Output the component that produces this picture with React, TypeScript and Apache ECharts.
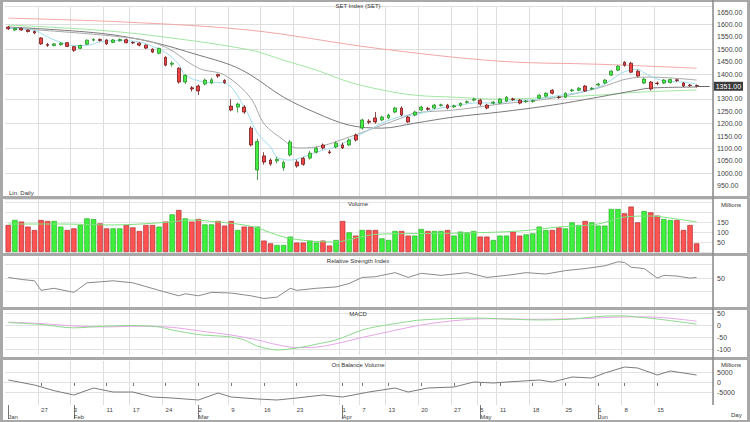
import React, { useEffect, useRef } from "react";
import * as echarts from "echarts";

const dates = [
  "2020-01-20","2020-01-21","2020-01-22","2020-01-23","2020-01-24","2020-01-27","2020-01-28","2020-01-29","2020-01-30","2020-01-31",
  "2020-02-03","2020-02-04","2020-02-05","2020-02-06","2020-02-07","2020-02-11","2020-02-12","2020-02-13","2020-02-14","2020-02-17","2020-02-18","2020-02-19","2020-02-20","2020-02-21","2020-02-24","2020-02-25","2020-02-26","2020-02-27","2020-02-28",
  "2020-03-02","2020-03-03","2020-03-04","2020-03-05","2020-03-06","2020-03-09","2020-03-10","2020-03-11","2020-03-12","2020-03-13","2020-03-16","2020-03-17","2020-03-18","2020-03-19","2020-03-20","2020-03-23","2020-03-24","2020-03-25","2020-03-26","2020-03-27","2020-03-30","2020-03-31",
  "2020-04-01","2020-04-02","2020-04-03","2020-04-07","2020-04-08","2020-04-09","2020-04-10","2020-04-13","2020-04-14","2020-04-15","2020-04-16","2020-04-17","2020-04-20","2020-04-21","2020-04-22","2020-04-23","2020-04-24","2020-04-27","2020-04-28","2020-04-29","2020-04-30",
  "2020-05-05","2020-05-07","2020-05-08","2020-05-11","2020-05-12","2020-05-13","2020-05-14","2020-05-15","2020-05-18","2020-05-19","2020-05-20","2020-05-21","2020-05-22","2020-05-25","2020-05-26","2020-05-27","2020-05-28","2020-05-29",
  "2020-06-01","2020-06-02","2020-06-04","2020-06-05","2020-06-08","2020-06-09","2020-06-10","2020-06-11","2020-06-12","2020-06-15","2020-06-16","2020-06-17","2020-06-18","2020-06-19","2020-06-22","2020-06-23"
];
const futureDates = ["2020-06-24", "2020-06-25"];

// [open, close, low, high]
const candles = [
  [1590,1583,1578,1594],[1578,1584,1574,1588],[1584,1578,1575,1588],[1578,1572,1568,1581],[1572,1566,1561,1576],
  [1546,1522,1518,1549],[1520,1516,1510,1526],[1516,1522,1512,1526],[1519,1525,1515,1529],[1527,1512,1509,1530],
  [1511,1496,1490,1514],[1504,1516,1501,1519],[1521,1537,1518,1540],[1537,1540,1532,1545],[1540,1536,1531,1544],
  [1538,1522,1518,1541],[1528,1538,1525,1542],[1535,1540,1531,1544],[1539,1527,1524,1544],[1528,1526,1521,1532],
  [1525,1517,1512,1529],[1517,1505,1501,1520],[1501,1489,1485,1504],[1484,1504,1480,1507],[1468,1436,1432,1472],
  [1440,1444,1430,1452],[1424,1368,1362,1428],[1368,1395,1360,1400],[1345,1340,1330,1352],[1352,1332,1316,1358],
  [1360,1376,1355,1382],[1364,1377,1360,1385],[1398,1392,1385,1402],[1374,1366,1360,1380],[1271,1255,1250,1299],
  [1267,1279,1245,1285],[1267,1247,1240,1275],[1182,1114,1108,1190],[1013,1128,972,1140],[1070,1045,1035,1085],
  [1053,1037,1030,1060],[1050,1056,1040,1066],[1022,1044,1010,1050],[1074,1126,1068,1134],[1045,1029,1022,1055],
  [1060,1036,1030,1066],[1061,1081,1055,1090],[1085,1101,1080,1108],[1114,1102,1096,1120],[1086,1083,1078,1094],
  [1106,1122,1100,1128],[1114,1102,1098,1124],[1114,1134,1110,1140],[1154,1134,1128,1160],[1182,1215,1176,1220],
  [1210,1206,1198,1218],[1223,1207,1200,1247],[1215,1227,1210,1232],[1223,1235,1218,1240],[1247,1263,1242,1268],
  [1263,1235,1230,1270],[1227,1207,1203,1232],[1235,1247,1230,1252],[1255,1267,1250,1272],[1262,1258,1252,1268],
  [1263,1275,1258,1280],[1274,1276,1269,1281],[1275,1263,1258,1280],[1268,1272,1263,1277],[1274,1282,1268,1286],
  [1286,1289,1281,1294],[1295,1299,1290,1305],[1295,1279,1272,1300],[1275,1263,1258,1280],[1283,1287,1278,1292],
  [1283,1299,1280,1304],[1291,1307,1288,1312],[1300,1297,1292,1305],[1295,1283,1278,1300],[1289,1291,1284,1296],
  [1290,1293,1285,1298],[1303,1315,1300,1320],[1311,1323,1306,1327],[1335,1323,1318,1339],[1307,1306,1300,1312],
  [1307,1323,1303,1327],[1333,1336,1328,1341],[1335,1343,1331,1348],[1352,1332,1328,1356],[1340,1343,1335,1348],
  [1356,1360,1350,1365],[1364,1376,1360,1380],[1396,1412,1392,1416],[1416,1432,1412,1436],[1448,1436,1430,1452],
  [1444,1408,1404,1450],[1412,1392,1388,1418],[1364,1380,1360,1385],[1368,1340,1334,1372],[1364,1362,1355,1370],
  [1364,1376,1360,1380],[1366,1378,1362,1382],[1377,1374,1369,1381],[1364,1352,1348,1368],[1356,1354,1349,1360],
  [1354,1351,1346,1358]
];

const volumes = [
  135,160,152,127,110,160,155,155,127,110,118,135,168,165,143,118,118,118,135,123,
  105,135,135,127,152,188,210,168,152,165,138,138,155,132,155,110,127,127,127,57,
  43,35,35,77,47,47,57,47,57,32,60,155,98,82,110,110,
  110,68,60,105,105,82,82,115,105,105,105,110,82,102,98,105,77,77,60,82,
  82,102,82,88,93,127,110,110,123,118,148,135,155,148,132,132,215,215,193,227,
  148,205,198,182,165,160,160,110,135,43
];

// moving averages read at sample points: [day index, value]
const ma200Pts = [[0,1626],[18,1610],[37,1577],[56,1505],[75,1452],[90,1440],[105,1424]];
const ma100Pts = [[0,1598],[14,1577],[24,1549],[37,1497],[42,1456],[47,1416],[52,1368],[57,1336],[62,1315],[68,1307],[75,1299],[80,1303],[90,1315],[96,1327],[105,1336]];
const ma50Pts = [[0,1590],[14,1565],[22,1529],[29,1477],[34,1436],[37,1396],[42,1307],[47,1243],[52,1194],[57,1182],[62,1202],[68,1227],[75,1247],[83,1275],[90,1307],[96,1336],[98,1344],[105,1348]];
const ma10Pts = [[0,1586],[19,1545],[24,1509],[29,1424],[33,1396],[37,1303],[39,1200],[42,1134],[44,1102],[47,1106],[52,1146],[57,1194],[60,1223],[62,1243],[68,1255],[75,1279],[83,1303],[90,1344],[95,1384],[98,1388],[105,1376]];
const ma5Pts = [[0,1586],[4,1577],[6,1550],[8,1528],[10,1515],[12,1516],[14,1530],[17,1535],[20,1530],[22,1512],[24,1487],[26,1440],[27,1396],[30,1368],[33,1364],[36,1267],[38,1162],[40,1106],[41,1065],[43,1053],[45,1065],[48,1094],[50,1106],[52,1134],[55,1174],[57,1202],[60,1230],[62,1235],[65,1258],[67,1268],[70,1280],[72,1285],[74,1282],[77,1293],[80,1295],[82,1305],[85,1318],[87,1325],[89,1338],[91,1360],[93,1395],[94,1410],[96,1420],[97,1405],[99,1380],[101,1370],[103,1368],[105,1360]];
const volMaPts = [[0,140],[8,140],[16,135],[24,148],[28,160],[32,150],[36,135],[38,120],[42,75],[46,55],[50,50],[53,70],[56,88],[62,92],[70,95],[78,105],[84,125],[90,140],[94,175],[98,180],[102,165],[105,150]];
const rsiPts = [[0,51],[2,48],[4,46],[5,32],[7,35],[10,29],[12,43],[16,46],[19,43],[23,32],[26,24],[27,27],[29,24],[31,29],[34,28],[37,24],[39,20],[41,22],[43,35],[44,32],[47,35],[50,37],[52,42],[54,51],[56,52],[59,58],[61,51],[63,57],[66,54],[70,58],[73,51],[76,54],[79,58],[82,56],[85,61],[88,64],[91,68],[93,74],[94,73],[95,66],[97,64],[99,50],[100,54],[102,53],[104,50],[105,51]];
const macdPts = [[0,10],[5,2],[10,-12],[14,-6],[19,-2],[23,-8],[25,-21],[29,-40],[31,-44],[34,-50],[36,-62],[38,-88],[41,-104],[44,-96],[47,-80],[50,-62],[54,-21],[56,-8],[60,10],[63,21],[71,29],[76,25],[81,21],[86,25],[91,37],[94,38],[96,33],[99,25],[105,4]];
const signalPts = [[0,12],[5,6],[10,-4],[15,-8],[20,-5],[25,-10],[29,-24],[34,-42],[38,-62],[41,-82],[44,-94],[47,-92],[50,-78],[54,-52],[58,-28],[63,0],[68,18],[73,26],[81,24],[88,27],[93,33],[97,34],[101,28],[105,16]];
const obvPts = [[0,1000],[4,-1500],[7,-4350],[10,-6500],[13,-3000],[16,-5000],[19,-5000],[22,-7500],[25,-8000],[29,-9000],[32,-5500],[34,-7500],[38,-8500],[41,-9000],[44,-8000],[48,-6500],[51,-7500],[55,-5000],[59,-3000],[61,-5000],[64,-3000],[68,-2500],[71,0],[74,-500],[76,0],[81,1000],[83,0],[86,2500],[89,2000],[91,4500],[94,7500],[96,7000],[99,3500],[101,5500],[103,4500],[105,3500]];

const priceLabels = [950,1000,1050,1100,1150,1200,1250,1300,1350,1400,1450,1500,1550,1600,1650];
const volumeLabels = [50, 100, 150];
const rsiLabels = [50];
const macdLabels = [50, 0, -50, -100];
const obvLabels = [5000, 0, -5000];
const weekLabelDates = ["2020-01-27","2020-02-03","2020-02-11","2020-02-17","2020-02-24","2020-03-02","2020-03-09","2020-03-16","2020-03-23","2020-04-01","2020-04-07","2020-04-13","2020-04-20","2020-04-27","2020-05-05","2020-05-11","2020-05-18","2020-05-25","2020-06-01","2020-06-08","2020-06-15"];
const monthLabelDates = ["2020-01-20","2020-02-03","2020-03-02","2020-04-01","2020-05-05","2020-06-01"];
const monthNames = ["Jan","Feb","Mar","Apr","May","Jun"];

const FONT = "Liberation Sans, Arial, sans-serif";

export default function App() {
  const ref = useRef<HTMLDivElement>(null);
  useEffect(() => {
    document.body.style.margin = "0";
    if (!ref.current) return;
    const chart = echarts.init(ref.current, null, { renderer: "svg" });
    const cats = [...dates, ...futureDates];
    const weekIdx = new Set(weekLabelDates.map((d) => cats.indexOf(d)));
    const monthIdx = new Map(monthLabelDates.map((d, i) => [cats.indexOf(d), monthNames[i]] as [number, string]));
    const lastClose = candles[candles.length - 1][1];
    const lastDate = dates[dates.length - 1];

    const L = 5, R = 37;
    const grids = [
      { left: L, right: R, top: 6, height: 192 },
      { left: L, right: R, top: 199, height: 53 },
      { left: L, right: R, top: 257, height: 50 },
      { left: L, right: R, top: 310, height: 45 },
      { left: L, right: R, top: 361, height: 44 },
    ];
    const baseX = (gi: number) => ({
      type: "category",
      gridIndex: gi,
      data: cats,
      boundaryGap: true,
      axisLine: { show: false },
      axisTick: { show: false },
      axisLabel: { show: false },
      splitLine: { show: true, interval: (i: number) => weekIdx.has(i), lineStyle: { color: "#dedede", width: 1 } },
    });
    const xAxes: any[] = [0, 1, 2, 3, 4].map(baseX);
    xAxes[4] = {
      ...xAxes[4],
      axisLine: { show: true, lineStyle: { color: "#8a8a8a", width: 1 } },
      axisTick: { show: true, interval: (i: number) => weekIdx.has(i), alignWithLabel: true, length: 4, lineStyle: { color: "#777" } },
      axisLabel: {
        show: true, interval: (i: number) => weekIdx.has(i), formatter: (v: string) => String(Number(v.slice(8))),
        fontSize: 6, color: "#444", align: "left", margin: 2, fontFamily: FONT,
      },
    };
    xAxes.push({
      type: "category", gridIndex: 4, position: "bottom", data: cats, boundaryGap: true,
      axisLine: { show: false },
      axisTick: { show: true, interval: (i: number) => monthIdx.has(i), alignWithLabel: true, length: 14, lineStyle: { color: "#777" } },
      axisLabel: { show: true, interval: (i: number) => monthIdx.has(i), formatter: (_v: string, i: number) => monthIdx.get(i) || "", fontSize: 6, color: "#444", align: "left", margin: 9, fontFamily: FONT },
      splitLine: { show: false },
    });

    const labelAxis = (gi: number, min: number, max: number, interval: number, shown: number[], fmt: (v: number) => string) => ({
      type: "value", gridIndex: gi, position: "right", min, max, interval,
      axisLine: { show: false },
      axisTick: { show: false },
      splitLine: { show: false },
      axisLabel: {
        fontSize: 7, color: "#444", margin: 4, fontFamily: FONT,
        formatter: (v: number) => (shown.some((s) => Math.abs(s - v) < 1e-6) ? fmt(v) : ""),
      },
    });
    const yAxes: any[] = [
      labelAxis(0, 900, 1675, 50, priceLabels, (v) => v.toFixed(2)),
      { type: "value", gridIndex: 0, position: "right", min: 900, max: 1675, interval: 100, axisLine: { show: false }, axisTick: { show: false }, axisLabel: { show: false }, splitLine: { show: true, lineStyle: { color: "#dedede" } } },
      { ...labelAxis(1, 0, 265, 50, volumeLabels, (v) => String(v)), splitLine: { show: true, lineStyle: { color: "#e4e4e4" } } },
      labelAxis(2, 7.5, 81, 2.5, rsiLabels, (v) => String(v)),
      labelAxis(3, -125, 62.5, 25, macdLabels, (v) => String(v)),
      labelAxis(4, -11500, 10500, 500, obvLabels, (v) => String(v)),
    ];
    const gridMark = (vals: number[]) => ({
      silent: true, symbol: "none", z: 1, label: { show: false },
      lineStyle: { color: "#e2e2e2", type: "solid", width: 1 },
      data: vals.map((v) => ({ yAxis: v })),
    });
    const maLine = (pts: number[][], color: string, width = 1) => ({
      type: "line", xAxisIndex: 0, yAxisIndex: 0, data: pts, smooth: 0.35, showSymbol: false, symbol: "none",
      lineStyle: { color, width }, z: 1, silent: true,
    });
    const upColor = "#44ee44", downColor = "#f24444";
    const volData = volumes.map((v, i) => {
      const up = candles[i][1] >= candles[i][0];
      return { value: v, itemStyle: { color: up ? "#3cf03c" : "#ff5252", borderColor: up ? "#27a827" : "#a52626", borderWidth: 0.6 } };
    });

    const texts = [
      { t: "SET Index (SET)", x: 358, y: 6, a: "center" },
      { t: "Lin. Daily", x: 9, y: 193, a: "left" },
      { t: "Volume", x: 358, y: 204, a: "center" },
      { t: "Millions", x: 721, y: 205, a: "left" },
      { t: "Relative Strength Index", x: 358, y: 261, a: "center" },
      { t: "MACD", x: 358, y: 314, a: "center" },
      { t: "On Balance Volume", x: 358, y: 365, a: "center" },
      { t: "Millions", x: 721, y: 365, a: "left" },
      { t: "Day", x: 731, y: 415, a: "left" },
    ];
    const seps = [196, 253, 307, 357];
    const graphic: any[] = [
      ...seps.map((y) => ({ type: "rect", z: 50, silent: true, shape: { x: 0, y, width: 750, height: 3 }, style: { fill: "#a8a8a8" } })),
      { type: "rect", z: 50, silent: true, shape: { x: 0, y: 0, width: 750, height: 2 }, style: { fill: "#a8a8a8" } },
      { type: "rect", z: 50, silent: true, shape: { x: 0, y: 0, width: 3, height: 422 }, style: { fill: "#a8a8a8" } },
      { type: "rect", z: 50, silent: true, shape: { x: 747, y: 0, width: 3, height: 422 }, style: { fill: "#a8a8a8" } },
      { type: "rect", z: 50, silent: true, shape: { x: 0, y: 420, width: 750, height: 2 }, style: { fill: "#a8a8a8" } },
      { type: "line", z: 50, silent: true, shape: { x1: 713, y1: 0, x2: 713, y2: 405 }, style: { stroke: "#8a8a8a", lineWidth: 1.5 } },
      ...texts.map((o) => ({
        type: "text", z: 60, silent: true, x: o.x, y: o.y,
        style: { text: o.t, fontSize: 6, fontFamily: FONT, fill: "#333", align: o.a, verticalAlign: "middle" },
      })),
    ];

    chart.setOption({
      animation: false,
      backgroundColor: "#ffffff",
      grid: grids,
      xAxis: xAxes,
      yAxis: yAxes,
      graphic,
      series: [
        {
          type: "candlestick", xAxisIndex: 0, yAxisIndex: 0, data: candles, barMaxWidth: 6, z: 3,
          itemStyle: { color: upColor, color0: downColor, borderColor: "#2a8a2a", borderColor0: "#6e1a1a", borderWidth: 0.8 },
          markLine: {
            silent: true, symbol: "none", z: 6,
            lineStyle: { color: "#666", type: "solid", width: 1 },
            label: {
              show: true, position: "end", distance: 4, formatter: () => lastClose.toFixed(2),
              fontSize: 7, color: "#fff", backgroundColor: "#3c3c3c", padding: [1, 2], fontFamily: FONT,
            },
            data: [[{ coord: [lastDate, lastClose] }, { coord: [futureDates[1], lastClose] }]],
          },
        },
        maLine(ma200Pts, "#f2a6a6"),
        maLine(ma100Pts, "#a2e6a2"),
        maLine(ma50Pts, "#7a7a7a"),
        maLine(ma10Pts, "#a8a8a8"),
        maLine(ma5Pts, "#9fdcee"),
        { type: "bar", xAxisIndex: 1, yAxisIndex: 2, data: volData, barCategoryGap: "18%", z: 2 },
        { type: "line", xAxisIndex: 1, yAxisIndex: 2, data: volMaPts, smooth: 0.3, showSymbol: false, symbol: "none", lineStyle: { color: "#7ee27e", width: 1 }, z: 3 },
        { type: "line", xAxisIndex: 2, yAxisIndex: 3, data: rsiPts, showSymbol: false, symbol: "none", lineStyle: { color: "#8a8a8a", width: 1 }, z: 2, markLine: gridMark([30, 50, 70]) },
        { type: "line", xAxisIndex: 3, yAxisIndex: 4, data: signalPts, smooth: 0.3, showSymbol: false, symbol: "none", lineStyle: { color: "#e6a6e6", width: 1 }, z: 2, markLine: gridMark([50, 0, -50, -100]) },
        { type: "line", xAxisIndex: 3, yAxisIndex: 4, data: macdPts, smooth: 0.3, showSymbol: false, symbol: "none", lineStyle: { color: "#8ed88e", width: 1 }, z: 3 },
        { type: "line", xAxisIndex: 4, yAxisIndex: 5, data: obvPts, showSymbol: false, symbol: "none", lineStyle: { color: "#7a7a7a", width: 1 }, z: 2, markLine: gridMark([5000, 0, -5000]) },
      ],
    });
    return () => chart.dispose();
  }, []);
  return <div ref={ref} style={{ position: "absolute", left: 0, top: 0, width: 750, height: 422 }} />;
}
